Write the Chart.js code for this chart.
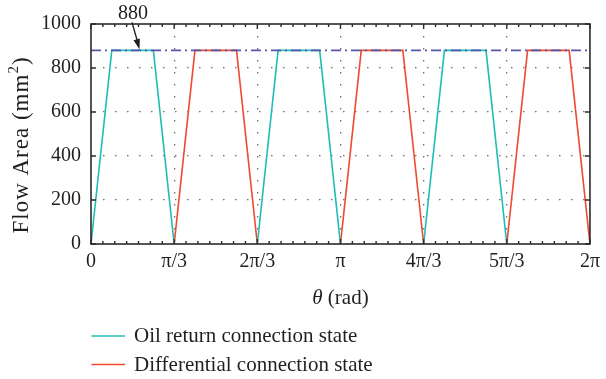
<!DOCTYPE html>
<html>
<head>
<meta charset="utf-8">
<script src="https://cdn.jsdelivr.net/npm/chart.js@4.4.0/dist/chart.umd.min.js"></script>
<style>
  html, body { margin: 0; padding: 0; background: #ffffff; }
  #wrap { width: 606px; height: 379px; position: relative; }
  canvas { display: block; }
</style>
</head>
<body>
<div id="wrap"><canvas id="c" width="606" height="379"></canvas></div>
<script>
// Rotation angle in degrees (60° = π/3); null area breaks the line between pulses
const oilAngle  = [0, 15, 45, 60, 90, 120, 135, 165, 180, 210, 240, 255, 285, 300];
const oilArea   = [0, 880, 880, 0, null, 0, 880, 880, 0, null, 0, 880, 880, 0];
const diffAngle = [60, 75, 105, 120, 150, 180, 195, 225, 240, 270, 300, 315, 345, 360];
const diffArea  = [0, 880, 880, 0, null, 0, 880, 880, 0, null, 0, 880, 880, 0];
const peakAngle = [0, 360];
const peakArea  = [880, 880];
const peakLabel = '880';

const tickAngles = [0, 60, 120, 180, 240, 300, 360];
const tickLabels = ['0', 'π/3', '2π/3', 'π', '4π/3', '5π/3', '2π'];
const areaTicks  = [0, 200, 400, 600, 800, 1000];

const seriesNames = ['Oil return connection state', 'Differential connection state'];
const CYAN = '#20bdb5';
const RED  = '#f04a2e';
const SLATE = '#5656a8';
const INK = '#231f20';
const FONT = '"Liberation Serif", "Times New Roman", serif';

const pts = (xs, ys) => xs.map((x, i) => ({ x: x, y: ys[i] }));

// frame, inward tick marks, axis titles, peak annotation and legend
const decor = {
  id: 'decor',
  afterDatasetsDraw(chart) {
    const { ctx, chartArea: a, scales: { x, y } } = chart;
    ctx.save();
    ctx.strokeStyle = '#2b2b2b';
    ctx.lineWidth = 1.4;
    ctx.beginPath();
    // minor ticks along top and bottom
    for (let i = 0; i < tickAngles.length - 1; i++) {
      for (let k = 1; k < 7; k++) {
        const px = x.getPixelForValue(tickAngles[i] + (tickAngles[i + 1] - tickAngles[i]) * k / 7);
        ctx.moveTo(px, a.bottom); ctx.lineTo(px, a.bottom - 3);
        ctx.moveTo(px, a.top); ctx.lineTo(px, a.top + 3);
      }
    }
    tickAngles.forEach(v => {
      const px = x.getPixelForValue(v);
      ctx.moveTo(px, a.bottom); ctx.lineTo(px, a.bottom - 5);
      ctx.moveTo(px, a.top); ctx.lineTo(px, a.top + 5);
    });
    areaTicks.forEach(v => {
      const py = y.getPixelForValue(v);
      ctx.moveTo(a.left, py); ctx.lineTo(a.left + 5, py);
      ctx.moveTo(a.right, py); ctx.lineTo(a.right - 5, py);
    });
    ctx.stroke();
    ctx.lineWidth = 1.6;
    ctx.strokeRect(a.left, a.top, a.right - a.left, a.bottom - a.top);
    ctx.restore();
  },
  afterDraw(chart) {
    const { ctx, chartArea: a, scales: { x, y } } = chart;
    ctx.save();
    ctx.fillStyle = INK;
    ctx.strokeStyle = INK;

    // y axis title with superscript
    ctx.save();
    ctx.translate(21, 145);
    ctx.rotate(-Math.PI / 2);
    ctx.textBaseline = 'alphabetic';
    ctx.textAlign = 'left';
    ctx.letterSpacing = '1px';
    const big = '23px ' + FONT, small = '15px ' + FONT;
    ctx.font = big;
    const t1 = 'Flow Area (mm', t3 = ')';
    const w1 = ctx.measureText(t1).width, w3 = ctx.measureText(t3).width;
    ctx.font = small;
    const w2 = ctx.measureText('2').width;
    const cx = -(w1 + w2 + w3) / 2;
    ctx.font = big;
    ctx.fillText(t1, cx, 7);
    ctx.font = small;
    ctx.fillText('2', cx + w1, -3);
    ctx.font = big;
    ctx.fillText(t3, cx + w1 + w2, 7);
    ctx.restore();

    // x axis title
    ctx.font = 'italic 21px ' + FONT;
    const th = 'θ';
    const wth = ctx.measureText(th).width;
    ctx.font = '21px ' + FONT;
    const rad = ' (rad)';
    const wrad = ctx.measureText(rad).width;
    const xc = (a.left + a.right) / 2;
    const sx = xc - (wth + wrad) / 2;
    ctx.textBaseline = 'alphabetic';
    ctx.font = 'italic 21px ' + FONT;
    ctx.fillText(th, sx, 304);
    ctx.font = '21px ' + FONT;
    ctx.fillText(rad, sx + wth, 304);

    // peak annotation with arrow
    const tipX = x.getPixelForValue(35), tipY = y.getPixelForValue(peakArea[0]) - 1;
    const tailX = tipX - 7.5, tailY = tipY - 27;
    ctx.lineWidth = 1.4;
    ctx.beginPath();
    ctx.moveTo(tailX, tailY);
    ctx.lineTo(tipX - 1.5, tipY - 6);
    ctx.stroke();
    const ang = Math.atan2(tipY - tailY, tipX - tailX);
    ctx.beginPath();
    ctx.moveTo(tipX, tipY);
    ctx.lineTo(tipX - 11 * Math.cos(ang - 0.3), tipY - 11 * Math.sin(ang - 0.3));
    ctx.lineTo(tipX - 11 * Math.cos(ang + 0.3), tipY - 11 * Math.sin(ang + 0.3));
    ctx.closePath();
    ctx.fill();
    ctx.font = '20px ' + FONT;
    ctx.textAlign = 'center';
    ctx.fillText(peakLabel, tailX + 1, 19);

    // legend
    ctx.textAlign = 'left';
    const rows = [336, 364.5];
    chart.data.datasets.slice(0, 2).forEach((ds, i) => {
      ctx.strokeStyle = ds.borderColor;
      ctx.lineWidth = 1.5;
      ctx.beginPath();
      ctx.moveTo(91.5, rows[i]);
      ctx.lineTo(125, rows[i]);
      ctx.stroke();
      ctx.fillStyle = INK;
      ctx.font = '21px ' + FONT;
      ctx.fillText(ds.label, 134, rows[i] + 6);
    });
    ctx.restore();
  }
};

const edgeTransparent = (lo, hi) => c =>
  (c.tick && (c.tick.value === lo || c.tick.value === hi)) ? 'rgba(0,0,0,0)' : '#6d6d6d';

new Chart(document.getElementById('c'), {
  type: 'line',
  data: {
    datasets: [
      { label: seriesNames[0], data: pts(oilAngle, oilArea), borderColor: CYAN, borderWidth: 1.6,
        pointRadius: 0, spanGaps: false, tension: 0, order: 2 },
      { label: seriesNames[1], data: pts(diffAngle, diffArea), borderColor: RED, borderWidth: 1.6,
        pointRadius: 0, spanGaps: false, tension: 0, order: 3 },
      { label: 'peak', data: pts(peakAngle, peakArea), borderColor: SLATE, borderWidth: 1.8,
        borderDash: [10, 4, 2, 4], pointRadius: 0, tension: 0, order: 1 }
    ]
  },
  options: {
    responsive: false,
    animation: false,
    devicePixelRatio: 1,
    layout: { padding: { top: 24, right: 10, left: 0, bottom: 0 } },
    plugins: { legend: { display: false }, tooltip: { enabled: false } },
    scales: {
      x: {
        type: 'linear', min: 0, max: 360,
        afterBuildTicks: s => { s.ticks = tickAngles.map(v => ({ value: v })); },
        afterFit: s => { s.height = 135; },
        ticks: {
          autoSkip: false, maxRotation: 0, padding: 6, color: INK,
          font: { family: FONT, size: 20 },
          callback: v => tickLabels[tickAngles.indexOf(v)]
        },
        grid: { drawTicks: false, lineWidth: 1.3, color: edgeTransparent(0, 360) },
        border: { display: false, dash: [1.5, 10.5] }
      },
      y: {
        type: 'linear', min: 0, max: 1000,
        afterBuildTicks: s => { s.ticks = areaTicks.map(v => ({ value: v })); },
        afterFit: s => { s.width = 91; },
        ticks: {
          padding: 10, color: INK, font: { family: FONT, size: 20 },
          callback: v => String(areaTicks[areaTicks.indexOf(v)])
        },
        grid: { drawTicks: false, lineWidth: 1.3, color: edgeTransparent(0, 1000) },
        border: { display: false, dash: [1.5, 10.5] }
      }
    }
  },
  plugins: [decor]
});
</script>
</body>
</html>
